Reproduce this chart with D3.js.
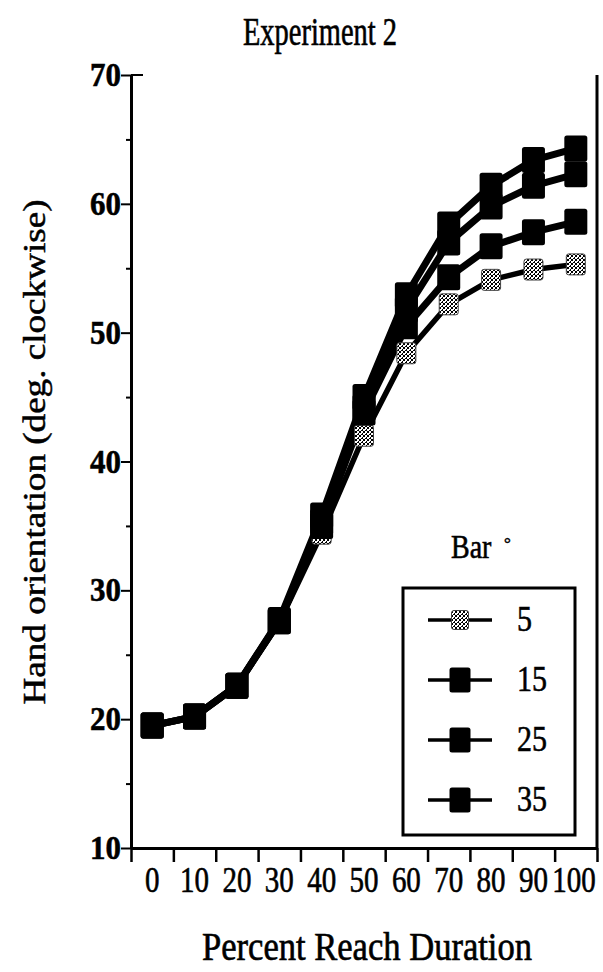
<!DOCTYPE html>
<html>
<head>
<meta charset="utf-8">
<script src="https://cdn.jsdelivr.net/npm/d3@7"></script>
<style>
  html, body { margin: 0; padding: 0; background: #fff; }
  svg { display: block; }
  text { font-family: "Liberation Serif", "DejaVu Serif", serif; fill: #000; stroke: #000; stroke-width: 0.5px; }
</style>
</head>
<body>
<svg id="chart" width="603" height="972"></svg>
<script>
// ---- data ----
const percents = [0, 10, 20, 30, 40, 50, 60, 70, 80, 90, 100];
const bar5  = [19.5, 20.2, 22.6, 27.5, 34.4, 42.0, 48.4, 52.2, 54.1, 54.9, 55.3];
const bar15 = [19.5, 20.2, 22.6, 27.6, 35.0, 43.8, 50.5, 54.3, 56.7, 57.8, 58.6];
const bar25 = [19.5, 20.2, 22.6, 27.6, 35.3, 44.2, 51.8, 57.0, 59.8, 61.4, 62.3];
const bar35 = [19.5, 20.2, 22.6, 27.7, 35.8, 45.0, 52.9, 58.4, 61.4, 63.4, 64.3];
const seriesNames = ["5", "15", "25", "35"];
const seriesValues = [bar5, bar15, bar25, bar35];
const yTicks = [10, 20, 30, 40, 50, 60, 70];
const yMinorTicks = [15, 25, 35, 45, 55, 65];
const titleText = "Experiment 2";
const xTitle = "Percent Reach Duration";
const yTitle = "Hand orientation (deg. clockwise)";
const legendTitle = "Bar";

// ---- layout ----
const svg = d3.select("#chart");
const pLeft = 131, pRight = 597, pTop = 75, pBottom = 848;
const x = d3.scaleLinear().domain([-5, 105]).range([pLeft, pRight]);
const y = d3.scaleLinear().domain([10, 70]).range([pBottom, pTop]);
const SY = 1.3; // vertical stretch of lettering

// pattern for the speckled "5" markers
const defs = svg.append("defs");
const pat = defs.append("pattern").attr("id", "speckle")
  .attr("patternUnits", "userSpaceOnUse").attr("width", 4).attr("height", 4);
pat.append("rect").attr("width", 4).attr("height", 4).attr("fill", "#fff");
[[0,0],[2,1],[1,2],[3,3],[0,3],[3,0],[2,2]].forEach(([a,b]) =>
  pat.append("rect").attr("x", a).attr("y", b).attr("width", 1).attr("height", 1).attr("fill", "#000"));

function stretchText(g, tx, ty, str, opts) {
  const t = g.append("text")
    .attr("transform", `translate(${tx},${ty}) scale(1,${opts.sy || SY})`)
    .attr("text-anchor", opts.anchor || "middle")
    .attr("font-size", opts.size)
    .attr("font-weight", opts.weight || "normal")
    .text(str);
  if (opts.length) t.attr("textLength", opts.length).attr("lengthAdjust", "spacingAndGlyphs");
  return t;
}

// title
stretchText(svg, 320, 45, titleText, {size: 30, length: 154, sy: 1.3});

// axes lines
const axisG = svg.append("g");
const xAxis = d3.axisBottom(x)
  .tickValues(d3.range(-5, 106, 10))
  .tickFormat("")
  .tickSize(14)
  .tickSizeOuter(0);
const gx = axisG.append("g").attr("transform", `translate(0,${pBottom})`).call(xAxis);
gx.select(".domain").attr("stroke-width", 3);
gx.selectAll(".tick line").attr("stroke-width", 2.5);

const yAxis = d3.axisLeft(y).tickValues(yTicks).tickFormat("").tickSize(10).tickSizeOuter(0);
const gy = axisG.append("g").attr("transform", `translate(${pLeft},0)`).call(yAxis);
gy.select(".domain").attr("stroke-width", 3);
gy.selectAll(".tick line").attr("stroke-width", 2);
const yAxisMinor = d3.axisLeft(y).tickValues(yMinorTicks).tickFormat("").tickSize(5).tickSizeOuter(0);
const gym = axisG.append("g").attr("transform", `translate(${pLeft},0)`).call(yAxisMinor);
gym.select(".domain").remove();
gym.selectAll(".tick line").attr("stroke-width", 2);

// right frame line
axisG.append("line").attr("x1", pRight).attr("x2", pRight).attr("y1", pTop).attr("y2", pBottom)
  .attr("stroke", "#000").attr("stroke-width", 3);
// short top stub at 70
axisG.append("line").attr("x1", pLeft).attr("x2", pLeft + 12).attr("y1", y(70)).attr("y2", y(70))
  .attr("stroke", "#000").attr("stroke-width", 2);

// tick labels
percents.forEach(p => stretchText(svg, Math.min(x(p), 574), 892, String(p), {size: 29, sy: 1.2}));
yTicks.forEach(v => stretchText(svg, 121, y(v) + 11, String(v), {size: 31, sy: 1.1, anchor: "end", weight: "bold"}));

// axis titles
stretchText(svg, 367, 960, xTitle, {size: 30, length: 330, sy: 1.35});
svg.append("text")
  .attr("transform", `translate(45,452) rotate(-90)`)
  .attr("text-anchor", "middle")
  .attr("font-size", 32)
  .attr("textLength", 505).attr("lengthAdjust", "spacingAndGlyphs")
  .text(yTitle);

// series
const line = d3.line().x((d, i) => x(percents[i])).y(d => y(d));
const plot = svg.append("g");
seriesValues.forEach((vals, si) => {
  plot.append("path").datum(vals).attr("d", line)
    .attr("fill", "none").attr("stroke", "#000").attr("stroke-width", si === 0 ? 5.5 : 7)
    .attr("stroke-linejoin", "round");
});
seriesValues.forEach((vals, si) => {
  const w = si === 0 ? 19 : 23, h = si === 0 ? 21 : 26;
  plot.selectAll(null).data(vals).enter().append("rect")
    .attr("x", (d, i) => x(percents[i]) - w / 2)
    .attr("y", d => y(d) - h / 2)
    .attr("width", w).attr("height", h).attr("rx", 2.5)
    .attr("fill", si === 0 ? "url(#speckle)" : "#000")
    .attr("stroke", si === 0 ? "#444" : "none").attr("stroke-width", 1);
});

// legend
const lg = svg.append("g");
stretchText(lg, 451, 558, legendTitle, {size: 28, anchor: "start", sy: 1.2});
lg.append("text").attr("x", 504).attr("y", 549).attr("font-size", 17).text("°");
lg.append("rect").attr("x", 403).attr("y", 588).attr("width", 172).attr("height", 247)
  .attr("fill", "#fff").attr("stroke", "#000").attr("stroke-width", 3);
const rowY = d3.scalePoint().domain(seriesNames).range([620, 800]);
seriesNames.forEach((name, si) => {
  const cy = rowY(name);
  lg.append("line").attr("x1", 428).attr("x2", 492).attr("y1", cy).attr("y2", cy)
    .attr("stroke", "#000").attr("stroke-width", 3.5);
  const w = si === 0 ? 17 : 21, h = si === 0 ? 19 : 25;
  lg.append("rect").attr("x", 460 - w / 2).attr("y", cy - h / 2).attr("width", w).attr("height", h)
    .attr("rx", 2.5)
    .attr("fill", si === 0 ? "url(#speckle)" : "#000")
    .attr("stroke", si === 0 ? "#444" : "none").attr("stroke-width", 1);
  stretchText(lg, 517, cy + 11, name, {size: 30, anchor: "start", sy: 1.2});
});
</script>
</body>
</html>
